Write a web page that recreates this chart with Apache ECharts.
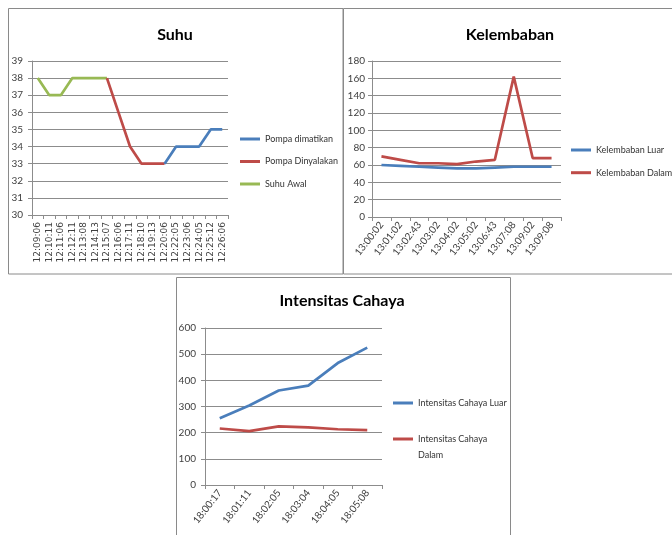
<!DOCTYPE html>
<html>
<head>
<meta charset="utf-8">
<script src="https://cdn.jsdelivr.net/npm/echarts@6/dist/echarts.min.js"></script>
<style>
html,body{margin:0;padding:0;background:#ffffff;}
#c{width:672px;height:535px;}
</style>
</head>
<body>
<div id="c"></div>
<script>
// ---------- DATA ----------
const suhuTimes = ['12:09:06','12:10:11','12:11:06','12:12:11','12:13:08','12:14:13','12:15:07','12:16:06','12:17:11','12:18:10','12:19:13','12:20:06','12:22:05','12:23:06','12:24:05','12:25:12','12:26:06'];
const pompaDimatikan   = [null,null,null,null,null,null,null,null,null,null,null,33,34,34,34,35,35];
const pompaDinyalakan  = [null,null,null,null,null,null,38,36,34,33,33,33,null,null,null,null,null];
const suhuAwal         = [38,37,37,38,38,38,38,null,null,null,null,null,null,null,null,null,null];
const suhuTicks = {min:30, max:39, interval:1};

const lembabTimes = ['13:00:02','13:01:02','13:02:43','13:03:02','13:04:02','13:05:02','13:06:43','13:07:08','13:09:02','13:09:08'];
const kelembabanLuar  = [60,59,58,57,56,56,57,58,58,58];
const kelembabanDalam = [70,66,62,62,61,64,66,162,68,68];
const lembabTicks = {min:0, max:180, interval:20};

const cahayaTimes = ['18:00:17','18:01:11','18:02:05','18:03:04','18:04:05','18:05:08'];
const cahayaLuar  = [255,304,361,380,466,525];
const cahayaDalam = [216,206,224,220,213,210];
const cahayaTicks = {min:0, max:600, interval:100};

// ---------- STYLE ----------
const FONT = 'Lato';
const BLUE = '#4A7EBB', RED = '#BE4B48', GREEN = '#98B954';
const GRID = '#8c8c8c', LABEL = '#404040', BORDER = '#8a8a8a';

function xAx(gridIndex, data, rotate, fontSize, margin, family){
  return {type:'category', gridIndex, data, boundaryGap:true,
    axisLine:{show:true, lineStyle:{color:GRID, width:1}},
    axisTick:{show:true, length:4, alignWithLabel:false, lineStyle:{color:GRID}},
    axisLabel:{rotate, interval:0, fontFamily:family || FONT, fontSize, color:LABEL, margin},
    splitLine:{show:false}};
}
function yAx(gridIndex, t, margin){
  return {type:'value', gridIndex, min:t.min, max:t.max, interval:t.interval,
    axisLine:{show:true, lineStyle:{color:GRID, width:1}},
    axisTick:{show:true, length:4, lineStyle:{color:GRID}},
    splitLine:{show:true, lineStyle:{color:GRID, width:1}},
    axisLabel:{fontFamily:FONT, fontSize:10, color:LABEL, margin}};
}
function ln(name, xi, data, color){
  return {type:'line', name, xAxisIndex:xi, yAxisIndex:xi, data, symbol:'none', showSymbol:false,
    connectNulls:false, lineStyle:{width:2.7, color}, itemStyle:{color}, emphasis:{disabled:true}};
}
const titleStyle = {fontFamily:FONT, fontSize:16, fontWeight:'bold', color:'#000'};
const legendText = {fontFamily:FONT, fontSize:9, color:'#333', lineHeight:12};

const chart = echarts.init(document.getElementById('c'), null, {renderer:'canvas'});
chart.setOption({
  animation:false,
  backgroundColor:'#ffffff',
  title:[
    {text:'Suhu', left:175, top:27, padding:0, textAlign:'center', textStyle:titleStyle},
    {text:'Kelembaban', left:510, top:27, padding:0, textAlign:'center', textStyle:titleStyle},
    {text:'Intensitas Cahaya', left:342, top:293, padding:0, textAlign:'center', textStyle:titleStyle}
  ],
  grid:[
    {left:32, top:61, width:196, height:154, containLabel:false},
    {left:372, top:61, width:189, height:156, containLabel:false},
    {left:205, top:328, width:177, height:157, containLabel:false}
  ],
  xAxis:[
    xAx(0, suhuTimes, 90, 9, 7, 'DejaVu Sans'),
    xAx(1, lembabTimes, 52, 10, 6),
    xAx(2, cahayaTimes, 52, 10, 6)
  ],
  yAxis:[
    yAx(0, suhuTicks, 9),
    yAx(1, lembabTicks, 7),
    yAx(2, cahayaTicks, 9)
  ],
  legend:[
    {orient:'vertical', left:240, top:133, padding:0, itemWidth:20, itemHeight:3, itemGap:10.5, icon:'rect',
     data:['Pompa dimatikan','Pompa Dinyalakan','Suhu Awal'], textStyle:legendText, selectedMode:false},
    {orient:'vertical', left:571, top:144, padding:0, itemWidth:20, itemHeight:3, itemGap:10.7, icon:'rect',
     data:['Kelembaban Luar','Kelembaban Dalam'], textStyle:legendText, selectedMode:false},
    {orient:'vertical', left:393, top:397, padding:0, itemWidth:20, itemHeight:3, icon:'rect',
     data:['Intensitas Cahaya Luar'], textStyle:legendText, selectedMode:false},
    {orient:'vertical', left:393, top:415, padding:0, itemWidth:20, itemHeight:3, icon:'rect',
     data:['Intensitas Cahaya Dalam'],
     formatter:function(n){ return ' \nIntensitas Cahaya\nDalam'; },
     textStyle:Object.assign({}, legendText, {lineHeight:16}), selectedMode:false}
  ],
  series:[
    ln('Suhu Awal', 0, suhuAwal, GREEN),
    ln('Pompa Dinyalakan', 0, pompaDinyalakan, RED),
    ln('Pompa dimatikan', 0, pompaDimatikan, BLUE),
    ln('Kelembaban Luar', 1, kelembabanLuar, BLUE),
    ln('Kelembaban Dalam', 1, kelembabanDalam, RED),
    ln('Intensitas Cahaya Luar', 2, cahayaLuar, BLUE),
    ln('Intensitas Cahaya Dalam', 2, cahayaDalam, RED)
  ],
  graphic:[
    {type:'rect', silent:true, z:-10, shape:{x:8.5, y:8.5, width:334.5, height:265.5}, style:{fill:null, stroke:BORDER, lineWidth:1}},
    {type:'rect', silent:true, z:-10, shape:{x:343.5, y:8.5, width:340, height:265.5}, style:{fill:null, stroke:BORDER, lineWidth:1}},
    {type:'rect', silent:true, z:-10, shape:{x:176.5, y:277.5, width:334, height:270}, style:{fill:null, stroke:BORDER, lineWidth:1}}
  ]
});
</script>
</body>
</html>
